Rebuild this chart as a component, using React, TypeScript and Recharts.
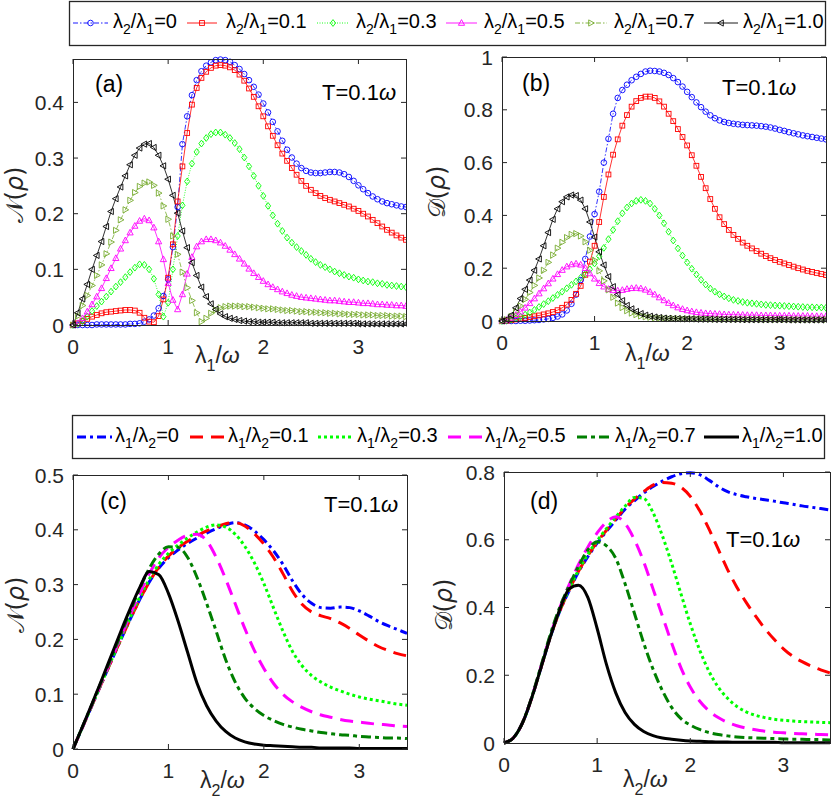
import React from 'react';
import { LineChart, Line, XAxis, YAxis } from 'recharts';

const FONT = '"Liberation Sans", Arial, Helvetica, sans-serif';
const INK = '#262626';

// coupling grid of the marker panels (a), (b)
const lamFine = [
  0, 0.05, 0.1, 0.15, 0.2, 0.25, 0.3, 0.35, 0.4, 0.45,
  0.5, 0.55, 0.6, 0.65, 0.7, 0.75, 0.8, 0.85, 0.9, 0.95,
  1, 1.05, 1.1, 1.15, 1.2, 1.25, 1.3, 1.35, 1.4, 1.45,
  1.5, 1.55, 1.6, 1.65, 1.7, 1.75, 1.8, 1.85, 1.9, 1.95,
  2, 2.05, 2.1, 2.15, 2.2, 2.25, 2.3, 2.35, 2.4, 2.45,
  2.5, 2.55, 2.6, 2.65, 2.7, 2.75, 2.8, 2.85, 2.9, 2.95,
  3, 3.05, 3.1, 3.15, 3.2, 3.25, 3.3, 3.35, 3.4, 3.45, 3.5,
];
// coupling grid of the line panels (c), (d)
const lamCoarse = [
  0, 0.1, 0.2, 0.3, 0.4, 0.5, 0.6, 0.7, 0.8, 0.9,
  1, 1.1, 1.2, 1.3, 1.4, 1.5, 1.6, 1.7, 1.8, 1.9,
  2, 2.1, 2.2, 2.3, 2.4, 2.5, 2.6, 2.7, 2.8, 2.9,
  3, 3.1, 3.2, 3.3, 3.4, 3.5,
];

const ratios = ['0', '0.1', '0.3', '0.5', '0.7', '1.0'];

// (a) negativity vs lambda1
const negA0 = [
  0, 0, 0, 0, 0, 0.001, 0.001, 0.001, 0.001, 0.001,
  0.001, 0.001, 0.002, 0.002, 0.003, 0.006, 0.010, 0.017, 0.030, 0.052,
  0.082, 0.140, 0.212, 0.325, 0.375, 0.413, 0.440, 0.456, 0.466, 0.472,
  0.476, 0.477, 0.476, 0.473, 0.467, 0.460, 0.451, 0.440, 0.428, 0.414,
  0.398, 0.382, 0.365, 0.348, 0.331, 0.315, 0.301, 0.290, 0.282, 0.277,
  0.274, 0.273, 0.273, 0.274, 0.275, 0.275, 0.274, 0.271, 0.266, 0.259,
  0.251, 0.244, 0.237, 0.231, 0.226, 0.222, 0.219, 0.217, 0.215, 0.213, 0.212,
];
const negA1 = [
  0, 0.003, 0.007, 0.011, 0.015, 0.018, 0.021, 0.023, 0.024, 0.025,
  0.026, 0.027, 0.027, 0.026, 0.022, 0.013, 0.006, 0.005, 0.016, 0.046,
  0.085, 0.145, 0.222, 0.285, 0.345, 0.396, 0.426, 0.444, 0.455, 0.462,
  0.466, 0.467, 0.466, 0.463, 0.458, 0.450, 0.439, 0.425, 0.410, 0.393,
  0.375, 0.357, 0.340, 0.323, 0.308, 0.295, 0.282, 0.270, 0.259, 0.250,
  0.243, 0.237, 0.232, 0.228, 0.225, 0.222, 0.219, 0.216, 0.213, 0.209,
  0.205, 0.200, 0.195, 0.189, 0.183, 0.177, 0.171, 0.166, 0.161, 0.157, 0.153,
];
const negA3 = [
  0, 0.002, 0.007, 0.015, 0.025, 0.034, 0.042, 0.051, 0.060, 0.069,
  0.077, 0.086, 0.095, 0.103, 0.109, 0.108, 0.100, 0.083, 0.055, 0.015,
  0.040, 0.100, 0.160, 0.215, 0.258, 0.290, 0.311, 0.326, 0.336, 0.343,
  0.346, 0.346, 0.342, 0.336, 0.327, 0.316, 0.301, 0.285, 0.268, 0.250,
  0.232, 0.214, 0.197, 0.182, 0.169, 0.157, 0.148, 0.140, 0.133, 0.126,
  0.119, 0.113, 0.108, 0.104, 0.100, 0.096, 0.093, 0.090, 0.087, 0.085,
  0.082, 0.080, 0.078, 0.077, 0.075, 0.074, 0.072, 0.071, 0.070, 0.069, 0.068,
];
const negA5 = [
  0, 0.003, 0.012, 0.024, 0.037, 0.051, 0.066, 0.084, 0.102, 0.120,
  0.137, 0.152, 0.166, 0.178, 0.187, 0.191, 0.188, 0.175, 0.150, 0.118,
  0.075, 0.045, 0.028, 0.055, 0.092, 0.122, 0.141, 0.150, 0.154, 0.154,
  0.152, 0.148, 0.142, 0.135, 0.127, 0.119, 0.110, 0.101, 0.093, 0.086,
  0.079, 0.073, 0.068, 0.064, 0.060, 0.057, 0.054, 0.052, 0.050, 0.049,
  0.048, 0.047, 0.046, 0.045, 0.044, 0.044, 0.043, 0.042, 0.041, 0.041,
  0.040, 0.039, 0.039, 0.038, 0.037, 0.037, 0.036, 0.036, 0.035, 0.035, 0.034,
];
const negA7 = [
  0, 0.016, 0.035, 0.053, 0.071, 0.089, 0.108, 0.128, 0.149, 0.170,
  0.189, 0.207, 0.224, 0.238, 0.249, 0.255, 0.257, 0.251, 0.237, 0.214,
  0.190, 0.160, 0.127, 0.095, 0.067, 0.044, 0.022, 0.006, 0.012, 0.021,
  0.027, 0.031, 0.033, 0.034, 0.034, 0.034, 0.033, 0.033, 0.032, 0.031,
  0.030, 0.029, 0.029, 0.028, 0.027, 0.026, 0.026, 0.025, 0.024, 0.024,
  0.023, 0.023, 0.022, 0.022, 0.021, 0.021, 0.020, 0.020, 0.019, 0.019,
  0.019, 0.018, 0.018, 0.018, 0.017, 0.017, 0.017, 0.016, 0.016, 0.016, 0.015,
];
const negA10 = [
  0, 0.022, 0.047, 0.073, 0.100, 0.125, 0.150, 0.177, 0.204, 0.227,
  0.248, 0.268, 0.288, 0.305, 0.318, 0.325, 0.326, 0.319, 0.305, 0.286,
  0.262, 0.233, 0.201, 0.169, 0.139, 0.112, 0.089, 0.068, 0.051, 0.038,
  0.028, 0.020, 0.015, 0.012, 0.010, 0.008, 0.007, 0.006, 0.006, 0.005,
  0.005, 0.005, 0.005, 0.004, 0.004, 0.004, 0.004, 0.004, 0.004, 0.004,
  0.003, 0.003, 0.003, 0.003, 0.003, 0.003, 0.003, 0.003, 0.003, 0.003,
  0.002, 0.002, 0.002, 0.002, 0.002, 0.002, 0.002, 0.002, 0.002, 0.002, 0.002,
];

// (b) discord vs lambda1
const disB0 = [
  0, 0, 0, 0, 0.001, 0.001, 0.002, 0.003, 0.004, 0.006,
  0.008, 0.012, 0.017, 0.025, 0.040, 0.065, 0.100, 0.155, 0.235, 0.320,
  0.405, 0.490, 0.600, 0.690, 0.785, 0.845, 0.875, 0.895, 0.912, 0.925,
  0.936, 0.945, 0.948, 0.947, 0.945, 0.940, 0.932, 0.920, 0.905, 0.888,
  0.868, 0.848, 0.828, 0.810, 0.793, 0.779, 0.768, 0.760, 0.754, 0.750,
  0.747, 0.745, 0.743, 0.742, 0.741, 0.740, 0.738, 0.736, 0.733, 0.729,
  0.724, 0.720, 0.715, 0.711, 0.707, 0.703, 0.700, 0.697, 0.694, 0.691, 0.688,
];
const disB1 = [
  0, 0.001, 0.003, 0.006, 0.009, 0.012, 0.015, 0.018, 0.021, 0.025,
  0.029, 0.034, 0.041, 0.050, 0.062, 0.080, 0.103, 0.133, 0.175, 0.225,
  0.285, 0.375, 0.470, 0.555, 0.630, 0.688, 0.740, 0.780, 0.812, 0.833,
  0.845, 0.850, 0.850, 0.845, 0.832, 0.812, 0.785, 0.757, 0.727, 0.697,
  0.665, 0.628, 0.588, 0.546, 0.503, 0.462, 0.425, 0.393, 0.367, 0.345,
  0.326, 0.311, 0.297, 0.285, 0.275, 0.265, 0.255, 0.246, 0.238, 0.231,
  0.224, 0.218, 0.212, 0.206, 0.200, 0.195, 0.190, 0.186, 0.182, 0.178, 0.174,
];
const disB3 = [
  0, 0.002, 0.005, 0.010, 0.016, 0.024, 0.032, 0.042, 0.053, 0.064,
  0.075, 0.087, 0.099, 0.111, 0.124, 0.137, 0.150, 0.164, 0.178, 0.196,
  0.218, 0.245, 0.277, 0.310, 0.345, 0.378, 0.408, 0.430, 0.445, 0.455,
  0.459, 0.455, 0.445, 0.425, 0.400, 0.370, 0.338, 0.305, 0.275, 0.248,
  0.222, 0.198, 0.176, 0.156, 0.138, 0.123, 0.111, 0.101, 0.093, 0.086,
  0.080, 0.076, 0.072, 0.069, 0.067, 0.065, 0.063, 0.061, 0.060, 0.059,
  0.058, 0.057, 0.056, 0.055, 0.054, 0.053, 0.052, 0.052, 0.051, 0.051, 0.050,
];
const disB5 = [
  0, 0.004, 0.012, 0.022, 0.035, 0.050, 0.067, 0.085, 0.104, 0.123,
  0.142, 0.160, 0.177, 0.193, 0.206, 0.214, 0.217, 0.213, 0.200, 0.180,
  0.160, 0.143, 0.130, 0.121, 0.116, 0.115, 0.117, 0.121, 0.124, 0.125,
  0.123, 0.118, 0.110, 0.100, 0.089, 0.078, 0.068, 0.059, 0.051, 0.045,
  0.040, 0.036, 0.033, 0.031, 0.029, 0.028, 0.027, 0.026, 0.025, 0.024,
  0.024, 0.023, 0.023, 0.022, 0.022, 0.022, 0.021, 0.021, 0.021, 0.020,
  0.020, 0.020, 0.020, 0.019, 0.019, 0.019, 0.019, 0.018, 0.018, 0.018, 0.018,
];
const disB7 = [
  0, 0.005, 0.017, 0.035, 0.057, 0.082, 0.108, 0.135, 0.163, 0.192,
  0.222, 0.250, 0.276, 0.298, 0.316, 0.328, 0.331, 0.322, 0.300, 0.268,
  0.230, 0.190, 0.152, 0.118, 0.090, 0.068, 0.051, 0.039, 0.030, 0.024,
  0.019, 0.016, 0.014, 0.012, 0.011, 0.010, 0.009, 0.009, 0.009, 0.008,
  0.008, 0.008, 0.008, 0.008, 0.008, 0.007, 0.007, 0.007, 0.007, 0.007,
  0.007, 0.007, 0.007, 0.007, 0.007, 0.007, 0.006, 0.006, 0.006, 0.006,
  0.006, 0.006, 0.006, 0.006, 0.006, 0.006, 0.006, 0.006, 0.006, 0.006, 0.006,
];
const disB10 = [
  0, 0.006, 0.022, 0.050, 0.085, 0.120, 0.155, 0.192, 0.235, 0.285,
  0.335, 0.385, 0.425, 0.452, 0.470, 0.477, 0.475, 0.458, 0.425, 0.375,
  0.318, 0.262, 0.212, 0.168, 0.130, 0.100, 0.077, 0.059, 0.046, 0.036,
  0.028, 0.022, 0.018, 0.015, 0.013, 0.011, 0.010, 0.009, 0.009, 0.008,
  0.008, 0.008, 0.007, 0.007, 0.007, 0.007, 0.006, 0.006, 0.006, 0.006,
  0.006, 0.006, 0.005, 0.005, 0.005, 0.005, 0.005, 0.005, 0.005, 0.005,
  0.005, 0.005, 0.004, 0.004, 0.004, 0.004, 0.004, 0.004, 0.004, 0.004, 0.004,
];

// (c) negativity vs lambda2
const negC0 = [
  0, 0.040, 0.080, 0.120, 0.160, 0.199, 0.237, 0.273, 0.305, 0.330,
  0.349, 0.363, 0.375, 0.385, 0.394, 0.402, 0.409, 0.413, 0.409, 0.398,
  0.382, 0.362, 0.337, 0.307, 0.282, 0.266, 0.258, 0.257, 0.259, 0.258,
  0.252, 0.243, 0.233, 0.225, 0.218, 0.211,
];
const negC1 = [
  0, 0.040, 0.080, 0.120, 0.160, 0.199, 0.237, 0.273, 0.305, 0.332,
  0.352, 0.367, 0.379, 0.389, 0.398, 0.405, 0.411, 0.413, 0.407, 0.393,
  0.374, 0.350, 0.320, 0.288, 0.264, 0.250, 0.243, 0.238, 0.230, 0.220,
  0.208, 0.197, 0.187, 0.180, 0.174, 0.170,
];
const negC3 = [
  0, 0.040, 0.080, 0.121, 0.161, 0.201, 0.240, 0.277, 0.310, 0.337,
  0.357, 0.372, 0.385, 0.396, 0.405, 0.409, 0.405, 0.392, 0.370, 0.340,
  0.302, 0.258, 0.215, 0.178, 0.152, 0.134, 0.122, 0.113, 0.106, 0.100,
  0.095, 0.091, 0.088, 0.085, 0.082, 0.080,
];
const negC5 = [
  0, 0.040, 0.081, 0.122, 0.163, 0.204, 0.245, 0.284, 0.320, 0.349,
  0.368, 0.381, 0.390, 0.392, 0.380, 0.350, 0.310, 0.265, 0.220, 0.180,
  0.147, 0.120, 0.100, 0.086, 0.076, 0.068, 0.062, 0.058, 0.054, 0.051,
  0.049, 0.047, 0.045, 0.044, 0.042, 0.041,
];
const negC7 = [
  0, 0.041, 0.082, 0.124, 0.166, 0.209, 0.252, 0.293, 0.330, 0.356,
  0.369, 0.368, 0.350, 0.313, 0.266, 0.215, 0.163, 0.122, 0.093, 0.074,
  0.061, 0.052, 0.045, 0.040, 0.036, 0.033, 0.030, 0.028, 0.026, 0.025,
  0.023, 0.022, 0.021, 0.020, 0.020, 0.019,
];
const negC10 = [
  0, 0.041, 0.083, 0.126, 0.170, 0.214, 0.256, 0.295, 0.324, 0.318,
  0.284, 0.234, 0.177, 0.120, 0.079, 0.051, 0.032, 0.020, 0.013, 0.009,
  0.007, 0.006, 0.005, 0.004, 0.003, 0.003, 0.002, 0.002, 0.002, 0.002,
  0.001, 0.001, 0.001, 0.001, 0.001, 0.001,
];

// (d) discord vs lambda2
const disD0 = [
  0, 0.015, 0.060, 0.135, 0.225, 0.315, 0.390, 0.450, 0.505, 0.550,
  0.590, 0.625, 0.658, 0.690, 0.715, 0.738, 0.757, 0.773, 0.786, 0.795,
  0.798, 0.792, 0.776, 0.757, 0.742, 0.733, 0.727, 0.722, 0.718, 0.714,
  0.709, 0.705, 0.700, 0.696, 0.692, 0.688,
];
const disD1 = [
  0, 0.015, 0.060, 0.135, 0.225, 0.315, 0.390, 0.452, 0.507, 0.553,
  0.593, 0.628, 0.662, 0.694, 0.720, 0.742, 0.761, 0.769, 0.767, 0.755,
  0.728, 0.686, 0.632, 0.572, 0.512, 0.460, 0.415, 0.375, 0.338, 0.306,
  0.278, 0.256, 0.240, 0.227, 0.216, 0.207,
];
const disD3 = [
  0, 0.015, 0.060, 0.135, 0.226, 0.317, 0.393, 0.455, 0.510, 0.557,
  0.597, 0.633, 0.667, 0.699, 0.725, 0.722, 0.680, 0.612, 0.530, 0.440,
  0.352, 0.275, 0.212, 0.165, 0.132, 0.108, 0.092, 0.082, 0.075, 0.070,
  0.067, 0.065, 0.063, 0.062, 0.061, 0.060,
];
const disD5 = [
  0, 0.015, 0.061, 0.137, 0.228, 0.320, 0.400, 0.468, 0.527, 0.578,
  0.620, 0.652, 0.668, 0.648, 0.600, 0.535, 0.455, 0.375, 0.295, 0.222,
  0.165, 0.124, 0.095, 0.075, 0.061, 0.051, 0.044, 0.039, 0.035, 0.032,
  0.030, 0.028, 0.027, 0.026, 0.025, 0.024,
];
const disD7 = [
  0, 0.015, 0.061, 0.138, 0.230, 0.323, 0.402, 0.465, 0.522, 0.570,
  0.594, 0.582, 0.545, 0.470, 0.383, 0.295, 0.218, 0.155, 0.105, 0.072,
  0.053, 0.040, 0.031, 0.025, 0.021, 0.018, 0.016, 0.015, 0.014, 0.013,
  0.012, 0.011, 0.011, 0.010, 0.010, 0.009,
];
const disD10 = [
  0, 0.015, 0.060, 0.135, 0.225, 0.315, 0.395, 0.455, 0.466, 0.430,
  0.338, 0.232, 0.148, 0.090, 0.055, 0.034, 0.022, 0.015, 0.011, 0.008,
  0.006, 0.005, 0.004, 0.003, 0.003, 0.002, 0.002, 0.002, 0.002, 0.002,
  0.001, 0.001, 0.001, 0.001, 0.001, 0.001,
];

const KEYS = ['s0', 's1', 's3', 's5', 's7', 's10'];

function buildRows(xs: number[], cols: number[][]) {
  return xs.map((x, i) => {
    const row: Record<string, number> = { x };
    cols.forEach((c, k) => { row[KEYS[k]] = c[i]; });
    return row;
  });
}

const rowsA = buildRows(lamFine, [negA0, negA1, negA3, negA5, negA7, negA10]);
const rowsB = buildRows(lamFine, [disB0, disB1, disB3, disB5, disB7, disB10]);
const rowsC = buildRows(lamCoarse, [negC0, negC1, negC3, negC5, negC7, negC10]);
const rowsD = buildRows(lamCoarse, [disD0, disD1, disD3, disD5, disD7, disD10]);

type Shape = 'circle' | 'square' | 'diamond' | 'up' | 'right' | 'left';
interface Style { color: string; dash?: string; shape: Shape; }

// marker-series look (top row)
const markStyles: Style[] = [
  { color: '#0000ff', dash: '5 2 1.5 2', shape: 'circle' },
  { color: '#ff0000', shape: 'square' },
  { color: '#00ff00', dash: '1 1.5', shape: 'diamond' },
  { color: '#ff00ff', shape: 'up' },
  { color: '#77ac30', dash: '5 2 1.5 2', shape: 'right' },
  { color: '#000000', shape: 'left' },
];
// thick-line look (bottom row)
const lineStyles: Style[] = [
  { color: '#0000ff', dash: '9 4 3 4', shape: 'circle' },
  { color: '#ff0000', dash: '13 8', shape: 'circle' },
  { color: '#00ff00', dash: '3 3', shape: 'circle' },
  { color: '#ff00ff', dash: '13 8', shape: 'circle' },
  { color: '#007f00', dash: '10 4 4 4', shape: 'circle' },
  { color: '#000000', shape: 'circle' },
];

function Mark({ cx, cy, shape, color }: { cx?: number; cy?: number; shape: Shape; color: string }) {
  if (cx == null || cy == null) return null;
  const p = { fill: 'none', stroke: color, strokeWidth: 0.9 };
  switch (shape) {
    case 'circle':
      return <circle cx={cx} cy={cy} r={2.8} {...p} />;
    case 'square':
      return <rect x={cx - 2.4} y={cy - 2.4} width={4.8} height={4.8} {...p} />;
    case 'diamond':
      return <polygon points={`${cx},${cy - 3.4} ${cx + 2.6},${cy} ${cx},${cy + 3.4} ${cx - 2.6},${cy}`} {...p} />;
    case 'up':
      return <polygon points={`${cx},${cy - 3.4} ${cx + 3.1},${cy + 2.3} ${cx - 3.1},${cy + 2.3}`} {...p} />;
    case 'right':
      return <polygon points={`${cx + 3.4},${cy} ${cx - 2.3},${cy - 3.1} ${cx - 2.3},${cy + 3.1}`} {...p} />;
    default:
      return <polygon points={`${cx - 3.4},${cy} ${cx + 2.3},${cy - 3.1} ${cx + 2.3},${cy + 3.1}`} {...p} />;
  }
}

interface Geo { left: number; top: number; w: number; h: number; }
const geoA: Geo = { left: 73, top: 59, w: 333, h: 266 };
const geoB: Geo = { left: 502, top: 57, w: 324, h: 264 };
const geoC: Geo = { left: 73, top: 475, w: 334, h: 274 };
const geoD: Geo = { left: 504, top: 472, w: 326, h: 271 };

const YW = 60;
const MT = 10;
const XH = 40;
const TICK = 5;

function Panel({ geo, rows, yMax, yTicks, styles, markers }: {
  geo: Geo; rows: Record<string, number>[]; yMax: number; yTicks: number[]; styles: Style[]; markers: boolean;
}) {
  const pl = YW;
  const pr = YW + geo.w;
  const pt = MT;
  const pb = MT + geo.h;
  const xTick = (p: any) => (
    <g>
      <line x1={p.x} x2={p.x} y1={pb} y2={pb - TICK} stroke={INK} strokeWidth={1} />
      <line x1={p.x} x2={p.x} y1={pt} y2={pt + TICK} stroke={INK} strokeWidth={1} />
      <text x={p.x} y={pb + 29} textAnchor="middle" fontSize={21} fontFamily={FONT} fill={INK}>
        {String(p.payload.value)}
      </text>
    </g>
  );
  const yTick = (p: any) => (
    <g>
      <line x1={pl} x2={pl + TICK} y1={p.y} y2={p.y} stroke={INK} strokeWidth={1} />
      <line x1={pr} x2={pr - TICK} y1={p.y} y2={p.y} stroke={INK} strokeWidth={1} />
      <text x={pl - 9} y={p.y + 7.5} textAnchor="end" fontSize={21} fontFamily={FONT} fill={INK}>
        {String(p.payload.value)}
      </text>
    </g>
  );
  return (
    <div style={{ position: 'absolute', left: geo.left - YW, top: geo.top - MT }}>
      <LineChart
        width={YW + geo.w + 1}
        height={MT + geo.h + XH}
        data={rows}
        margin={{ top: MT, right: 1, bottom: 0, left: 0 }}
      >
        <XAxis
          dataKey="x"
          type="number"
          domain={[0, 3.5]}
          ticks={[0, 1, 2, 3]}
          height={XH}
          tickSize={0}
          tickMargin={0}
          axisLine={false}
          tickLine={false}
          tick={xTick}
        />
        <YAxis
          type="number"
          domain={[0, yMax]}
          ticks={yTicks}
          width={YW}
          tickSize={0}
          tickMargin={0}
          axisLine={false}
          tickLine={false}
          tick={yTick}
        />
        {KEYS.map((k, i) => {
          const s = styles[i];
          return (
            <Line
              key={k}
              dataKey={k}
              type={markers ? 'linear' : 'monotone'}
              stroke={s.color}
              strokeWidth={markers ? 0.8 : 3}
              strokeDasharray={s.dash}
              dot={markers
                ? (p: any) => <Mark key={`${k}-${p.index}`} cx={p.cx} cy={p.cy} shape={s.shape} color={s.color} />
                : false}
              activeDot={false}
              isAnimationActive={false}
            />
          );
        })}
      </LineChart>
    </div>
  );
}

function Ratio({ x, y, top, bottom, val }: { x: number; y: number; top: string; bottom: string; val: string }) {
  return (
    <text x={x} y={y} fontSize={20} fontFamily={FONT} fill="#000">
      λ<tspan fontSize={14} dy={6}>{top}</tspan>
      <tspan dy={-6}>/λ</tspan>
      <tspan fontSize={14} dy={6}>{bottom}</tspan>
      <tspan dy={-6}>={val}</tspan>
    </text>
  );
}

function XLabel({ x, y, sub }: { x: number; y: number; sub: string }) {
  return (
    <text x={x} y={y} fontSize={23} fontFamily={FONT} fill={INK}>
      λ<tspan fontSize={16} dy={8}>{sub}</tspan>
      <tspan dy={-8}>/</tspan>
      <tspan fontStyle="italic">ω</tspan>
    </text>
  );
}

function YLabel({ x, y, letter }: { x: number; y: number; letter: string }) {
  return (
    <text transform={`translate(${x},${y}) rotate(-90)`} textAnchor="middle" fontSize={24}
      fontFamily={`"DejaVu Sans", ${FONT}`} fill={INK}>
      {letter}(<tspan fontStyle="italic">ρ</tspan>)
    </text>
  );
}

function Tag({ x, y, text }: { x: number; y: number; text: string }) {
  return <text x={x} y={y} fontSize={23} fontFamily={FONT} fill="#000">{text}</text>;
}

function Temp({ x, y }: { x: number; y: number }) {
  return (
    <text x={x} y={y} fontSize={22} fontFamily={FONT} fill="#000">
      T=0.1<tspan fontStyle="italic">ω</tspan>
    </text>
  );
}

// legend slots: sample span and text start
const topSample = [[73, 108], [187, 217], [317, 349], [446, 477], [575, 607], [704, 738]];
const topText = [113, 226, 356, 484, 614, 743];
const botSample = [[77, 112], [190, 225], [318, 353], [448, 483], [577, 612], [704, 739]];
const botText = [115, 228, 357, 485, 615, 742];

function Overlay() {
  const frames = [geoA, geoB, geoC, geoD];
  return (
    <svg width={831} height={804} style={{ position: 'absolute', left: 0, top: 0, pointerEvents: 'none' }}>
      {frames.map((g, i) => (
        <rect key={i} x={g.left + 0.5} y={g.top + 0.5} width={g.w} height={g.h} fill="none" stroke={INK} strokeWidth={1} />
      ))}

      <rect x={69.5} y={1.5} width={756} height={44} fill="#fff" stroke={INK} strokeWidth={1.3} />
      {ratios.map((r, i) => {
        const s = markStyles[i];
        const [a, b] = topSample[i];
        return (
          <g key={r}>
            <line x1={a} x2={b} y1={23} y2={23} stroke={s.color} strokeWidth={0.9} strokeDasharray={s.dash} />
            <Mark cx={(a + b) / 2} cy={23} shape={s.shape} color={s.color} />
            <Ratio x={topText[i]} y={28} top="2" bottom="1" val={r} />
          </g>
        );
      })}

      <rect x={72.5} y={415.5} width={752} height={43} fill="#fff" stroke={INK} strokeWidth={1.3} />
      {ratios.map((r, i) => {
        const s = lineStyles[i];
        const [a, b] = botSample[i];
        return (
          <g key={r}>
            <line x1={a} x2={b} y1={437} y2={437} stroke={s.color} strokeWidth={3} strokeDasharray={s.dash} />
            <Ratio x={botText[i]} y={442} top="1" bottom="2" val={r} />
          </g>
        );
      })}

      <Tag x={95} y={92} text="(a)" />
      <Temp x={322} y={100} />
      <Tag x={522} y={91} text="(b)" />
      <Temp x={722} y={95} />
      <Tag x={100} y={509} text="(c)" />
      <Temp x={324} y={512} />
      <Tag x={530} y={509} text="(d)" />
      <Temp x={726} y={547} />

      <XLabel x={195} y={363} sub="1" />
      <XLabel x={625} y={361} sub="1" />
      <XLabel x={200} y={788} sub="2" />
      <XLabel x={623} y={787} sub="2" />

      <YLabel x={23} y={195} letter="𝒩" />
      <YLabel x={445} y={192} letter="𝒟" />
      <YLabel x={24} y={605} letter="𝒩" />
      <YLabel x={452} y={605} letter="𝒟" />
    </svg>
  );
}

export default function App() {
  return (
    <div style={{ position: 'absolute', left: 0, top: 0, width: 831, height: 804, background: '#fff' }}>
      <Panel geo={geoA} rows={rowsA} yMax={0.478} yTicks={[0, 0.1, 0.2, 0.3, 0.4]} styles={markStyles} markers />
      <Panel geo={geoB} rows={rowsB} yMax={1} yTicks={[0, 0.2, 0.4, 0.6, 0.8, 1]} styles={markStyles} markers />
      <Panel geo={geoC} rows={rowsC} yMax={0.5} yTicks={[0, 0.1, 0.2, 0.3, 0.4, 0.5]} styles={lineStyles} markers={false} />
      <Panel geo={geoD} rows={rowsD} yMax={0.8} yTicks={[0, 0.2, 0.4, 0.6, 0.8]} styles={lineStyles} markers={false} />
      <Overlay />
    </div>
  );
}
